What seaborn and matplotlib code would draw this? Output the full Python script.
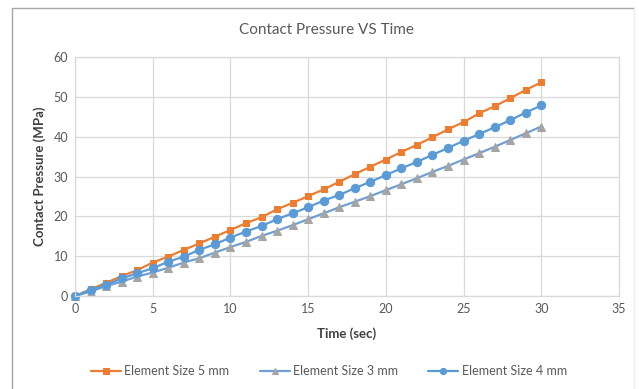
import matplotlib
matplotlib.use("Agg")
import matplotlib.pyplot as plt
import seaborn as sns
import pandas as pd
from matplotlib.lines import Line2D

time_sec = list(range(0, 31))
size_5mm = [0, 1.7, 3.3, 5.0, 6.5, 8.4, 9.9, 11.6, 13.2, 14.9, 16.6,
            18.3, 19.8, 21.8, 23.4, 25.1, 26.8, 28.7, 30.6, 32.5, 34.3,
            36.2, 38.0, 39.9, 41.9, 43.7, 45.9, 47.7, 49.7, 51.8, 53.7]
size_3mm = [0, 1.1, 2.5, 3.6, 4.9, 5.9, 7.1, 8.4, 9.5, 10.9, 12.3,
            13.6, 15.1, 16.4, 17.8, 19.3, 20.8, 22.3, 23.7, 25.1, 26.6,
            28.1, 29.6, 31.2, 32.7, 34.3, 35.9, 37.5, 39.2, 40.9, 42.6]
size_4mm = [0, 1.5, 2.8, 4.4, 5.7, 7.0, 8.6, 9.9, 11.6, 13.0, 14.7,
            16.2, 17.6, 19.3, 20.8, 22.3, 24.0, 25.4, 27.1, 28.7, 30.4,
            32.1, 33.7, 35.5, 37.2, 39.0, 40.7, 42.4, 44.2, 46.1, 47.9]
series_names = ["Element Size 5 mm", "Element Size 3 mm", "Element Size 4 mm"]

sns.set_theme(style="white")
plt.rcParams['font.family'] = ['Lato', 'DejaVu Sans']

fig = plt.figure(figsize=(6.39, 3.89), dpi=100)
ax = fig.add_axes([75/639, 1-296/389, (619-75)/639, (296-57.3)/389])

styles = [
    dict(color="#ED7D31", marker="s", markersize=5, markerfacecolor="#ED7D31", markeredgecolor="#ED7D31"),
    dict(color="#6F9FD4", marker="^", markersize=5.5, markerfacecolor="#A5A5A5", markeredgecolor="#A5A5A5"),
    dict(color="#5B9BD5", marker="o", markersize=6, markerfacecolor="#5B9BD5", markeredgecolor="#5B9BD5"),
]
for name, vals, st in zip(series_names, [size_5mm, size_3mm, size_4mm], styles):
    df = pd.DataFrame({"Time (sec)": time_sec, "Contact Pressure (MPa)": vals})
    sns.lineplot(data=df, x="Time (sec)", y="Contact Pressure (MPa)", ax=ax,
                 linewidth=1.6, label=name, **st)

ax.set_xlim(0, 35)
ax.set_ylim(0, 60)
ax.set_xticks(range(0, 36, 5))
ax.set_yticks(range(0, 61, 10))
ax.grid(True, color="#D9D9D9", linewidth=0.9)
for s in ax.spines.values():
    s.set_color("#D9D9D9")
    s.set_linewidth(0.9)
ax.tick_params(axis="both", length=0, labelsize=9, labelcolor="#595959", pad=5)
ax.set_xlabel("Time (sec)", fontsize=9.5, fontweight="bold", color="#404040", labelpad=9)
ax.set_ylabel("Contact Pressure (MPa)", fontsize=9.5, fontweight="bold", color="#404040", labelpad=5)
for l in ax.lines:
    l.set_clip_on(False)

fig.text(326/639, 1-30/389, "Contact Pressure VS Time", ha="center", va="center",
         fontsize=11, color="#595959")

ax.legend(loc="center", ncol=3, frameon=False, fontsize=9, handlelength=2.4,
          columnspacing=2.4, handletextpad=0.3, labelcolor="#595959", markerscale=0.75)
leg = ax.get_legend()
leg.set_bbox_to_anchor((329/639, 1-371/389), transform=fig.transFigure)

fig.add_artist(Line2D([11.5/639, 11.5/639], [0, 1-8/389], transform=fig.transFigure, color="#A6A6A6", linewidth=1))
fig.add_artist(Line2D([11.5/639, 634/639], [1-8/389, 1-8/389], transform=fig.transFigure, color="#A6A6A6", linewidth=1))
fig.add_artist(Line2D([634/639, 634/639], [0, 1-8/389], transform=fig.transFigure, color="#EEEEEE", linewidth=1))

fig.savefig("out.png", dpi=100)
